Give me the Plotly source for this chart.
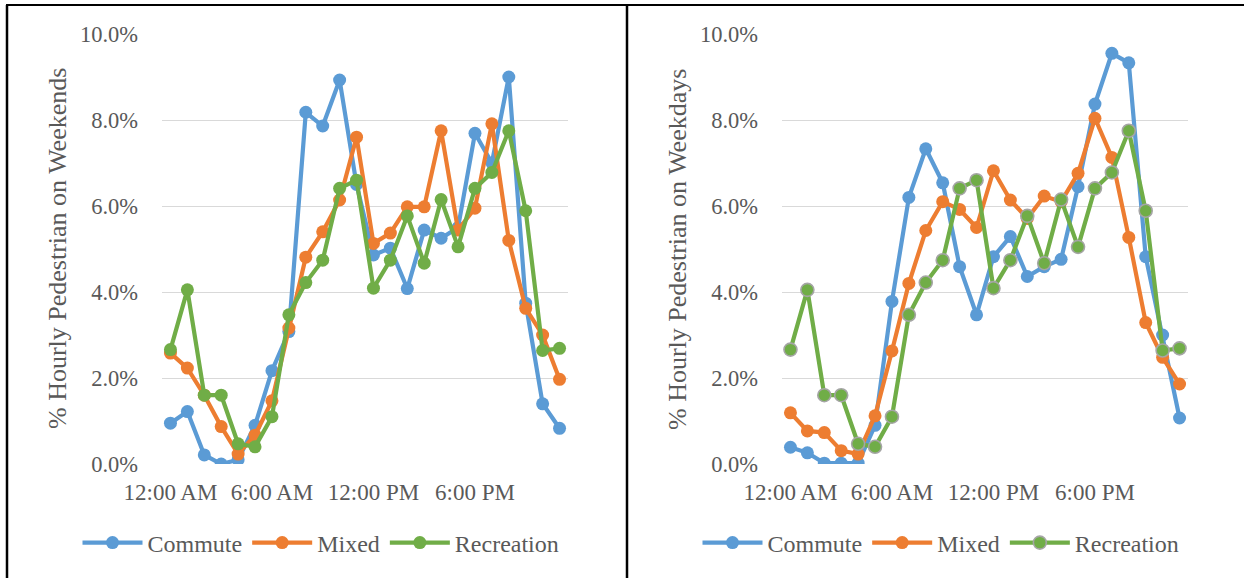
import plotly.graph_objects as go

hours = ["12:00 AM", "1:00 AM", "2:00 AM", "3:00 AM", "4:00 AM", "5:00 AM",
         "6:00 AM", "7:00 AM", "8:00 AM", "9:00 AM", "10:00 AM", "11:00 AM",
         "12:00 PM", "1:00 PM", "2:00 PM", "3:00 PM", "4:00 PM", "5:00 PM",
         "6:00 PM", "7:00 PM", "8:00 PM", "9:00 PM", "10:00 PM", "11:00 PM"]
tick_labels = ["12:00 AM", "6:00 AM", "12:00 PM", "6:00 PM"]
y_ticks = [0, 2, 4, 6, 8, 10]

commute_weekend = [0.95, 1.22, 0.21, 0.0, 0.1, 0.9, 2.17, 3.08, 8.18, 7.86, 8.93, 6.5,
                   4.86, 5.02, 4.08, 5.44, 5.25, 5.5, 7.69, 7.0, 9.0, 3.74, 1.4, 0.83]
mixed_weekend = [2.58, 2.23, 1.6, 0.87, 0.23, 0.67, 1.47, 3.16, 4.81, 5.4, 6.14, 7.6,
                 5.13, 5.37, 5.98, 5.98, 7.75, 5.44, 5.95, 7.91, 5.2, 3.62, 3.0, 1.97]
recreation_weekend = [2.66, 4.05, 1.6, 1.6, 0.47, 0.4, 1.1, 3.47, 4.22, 4.74, 6.41, 6.6,
                      4.09, 4.74, 5.77, 4.67, 6.15, 5.05, 6.41, 6.78, 7.75, 5.89, 2.64, 2.69]

commute_weekday = [0.39, 0.26, 0.02, 0.02, 0.02, 0.9, 3.78, 6.2, 7.33, 6.54, 4.59, 3.47,
                   4.82, 5.29, 4.36, 4.59, 4.76, 6.45, 8.37, 9.55, 9.33, 4.82, 3.0, 1.07]
mixed_weekday = [1.19, 0.77, 0.73, 0.31, 0.23, 1.12, 2.63, 4.2, 5.43, 6.1, 5.92, 5.5,
                 6.82, 6.14, 5.71, 6.23, 6.1, 6.76, 8.04, 7.13, 5.27, 3.29, 2.48, 1.86]
recreation_weekday = [2.66, 4.05, 1.6, 1.6, 0.47, 0.4, 1.1, 3.47, 4.22, 4.74, 6.41, 6.6,
                      4.09, 4.74, 5.77, 4.67, 6.15, 5.05, 6.41, 6.78, 7.75, 5.89, 2.64, 2.69]

W, H = 1244, 578
BLUE, ORANGE, GREEN = "#5B9BD5", "#ED7D31", "#70AD47"
TXT = "#595959"
FONT = "Liberation Serif, Times New Roman, serif"

def px_x(v):
    return v / W

def px_y(v):
    return 1 - v / H

fig = go.Figure()

panels = [
    ("x", "y", "legend", [commute_weekend, mixed_weekend, recreation_weekend], False),
    ("x2", "y2", "legend2", [commute_weekday, mixed_weekday, recreation_weekday], True),
]
names = ["Commute", "Mixed", "Recreation"]
colors = [BLUE, ORANGE, GREEN]
for xa, ya, lg, series, outline in panels:
    for name, col, vals in zip(names, colors, series):
        mline = dict(width=0)
        if outline and name == "Recreation":
            mline = dict(width=1.6, color="#A5A5A5")
        fig.add_trace(go.Scatter(
            x=hours, y=vals, name=name, mode="lines+markers",
            xaxis=xa, yaxis=ya, legend=lg,
            line=dict(color=col, width=4.2),
            marker=dict(color=col, size=13, line=mline),
        ))

ydom = [px_y(464), px_y(34)]
axis_common_x = dict(
    type="category", categoryorder="array", categoryarray=hours,
    range=[-0.5, 23.5], tickmode="array", tickvals=tick_labels, ticktext=tick_labels,
    showgrid=False, zeroline=False, showline=False, ticks="", automargin=False,
    tickfont=dict(family=FONT, size=23, color=TXT), ticklabelstandoff=12,
)
axis_common_y = dict(
    range=[0, 10], tickmode="array", tickvals=y_ticks,
    ticktext=[f"{v:.1f}%" for v in y_ticks], automargin=False,
    showgrid=True, gridcolor="#D9D9D9", gridwidth=1.3, zeroline=False, showline=False,
    ticks="", tickfont=dict(family=FONT, size=22.5, color=TXT), ticklabelstandoff=23,
    domain=ydom,
)

legend_common = dict(
    orientation="h", xanchor="center", yanchor="middle", y=px_y(543),
    font=dict(family=FONT, size=24, color=TXT), itemwidth=60,
    bgcolor="rgba(0,0,0,0)", traceorder="normal", tracegroupgap=0,
)

fig.update_layout(
    width=W, height=H, margin=dict(l=0, r=0, t=0, b=0, pad=0, autoexpand=False),
    paper_bgcolor="white", plot_bgcolor="white",
    xaxis=dict(domain=[px_x(162), px_x(568)], anchor="y", **axis_common_x),
    yaxis=dict(anchor="x", **axis_common_y),
    xaxis2=dict(domain=[px_x(782), px_x(1188)], anchor="y2", **axis_common_x),
    yaxis2=dict(anchor="x2", **axis_common_y),
    legend=dict(x=px_x(321), **legend_common),
    legend2=dict(x=px_x(941), **legend_common),
    annotations=[
        dict(text="% Hourly Pedestrian on Weekends", textangle=-90, x=px_x(57), y=px_y(249),
             xref="paper", yref="paper", showarrow=False, xanchor="center", yanchor="middle",
             font=dict(family=FONT, size=26, color=TXT)),
        dict(text="% Hourly Pedestrian on Weekdays", textangle=-90, x=px_x(677), y=px_y(249),
             xref="paper", yref="paper", showarrow=False, xanchor="center", yanchor="middle",
             font=dict(family=FONT, size=26, color=TXT)),
    ],
    shapes=[
        dict(type="line", xref="paper", yref="paper", x0=px_x(6), x1=1, y0=px_y(5), y1=px_y(5),
             line=dict(color="black", width=2)),
        dict(type="line", xref="paper", yref="paper", x0=px_x(7), x1=px_x(7), y0=px_y(5), y1=0,
             line=dict(color="black", width=2.5)),
        dict(type="line", xref="paper", yref="paper", x0=px_x(627), x1=px_x(627), y0=px_y(5), y1=0,
             line=dict(color="black", width=2.5)),
    ],
    showlegend=True,
)

fig.write_html("out.html", config={"displayModeBar": False},
               post_script="document.body.style.margin='0px';document.body.style.padding='0px';")
